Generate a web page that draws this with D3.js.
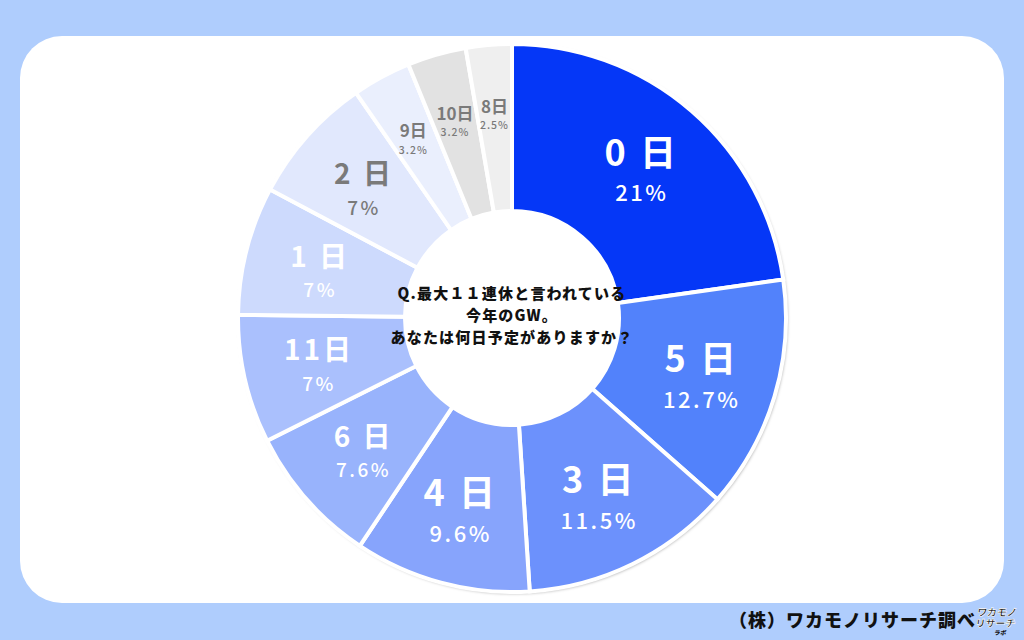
<!DOCTYPE html>
<html><head><meta charset="utf-8">
<script src="https://cdn.jsdelivr.net/npm/d3@7"></script>
<style>
html,body{margin:0;padding:0;background:#afcdfd;}
svg{display:block;}
</style></head>
<body>
<svg id="c" width="1024" height="640"></svg>
<script>
const categories = ["0日","5日","3日","4日","6日","11日","1日","2日","9日","10日","8日"];
const labelTexts = ["0 日","5 日","3 日","4 日","6 日","11日","1 日","2 日","9日","10日","8日"];
const values = [21, 12.7, 11.5, 9.6, 7.6, 7, 7, 7, 3.2, 3.2, 2.5];
const sliceColors = ["#0537f7","#5282fb","#6c91fc","#87a4fc","#98b3fc","#aac0fd","#cddafd","#e1e8fd","#eaeffd","#e2e2e2","#efefef"];
const textColors = ["#fff","#fff","#fff","#fff","#fff","#fff","#fff","#7a7a7a","#7a7a7a","#7a7a7a","#7a7a7a"];
const questionLines = ["Q.最大１１連休と言われている","今年のGW。","あなたは何日予定がありますか？"];
const footerText = "（株）ワカモノリサーチ調べ";

const svg = d3.select("#c");
const W = 1024, H = 640;
const font = "'Noto Sans CJK JP','Noto Sans',sans-serif";

// background & panel
svg.append("rect").attr("width", W).attr("height", H).attr("fill", "#afcdfd");
svg.append("rect").attr("x", 20).attr("y", 36).attr("width", 984).attr("height", 567)
  .attr("rx", 42).attr("ry", 42).attr("fill", "#ffffff");

const defs = svg.append("defs");
const f = defs.append("filter").attr("id", "sh").attr("x", "-10%").attr("y", "-10%").attr("width", "120%").attr("height", "120%");
f.append("feDropShadow").attr("dx", 1.5).attr("dy", 1.5).attr("stdDeviation", 1.5)
  .attr("flood-color", "#000").attr("flood-opacity", 0.35);

const cx = 512, cy = 318, rOut = 274, rIn = 107;
const g = svg.append("g").attr("transform", `translate(${cx},${cy})`);

const pie = d3.pie().sort(null).value(d => d.v);
const data = categories.map((c, i) => ({c, i, v: values[i]}));
const arcs = pie(data);
const arc = d3.arc().innerRadius(rIn).outerRadius(rOut);

// shadow base
g.append("circle").attr("r", rOut).attr("fill", "#fff").attr("filter", "url(#sh)");

g.selectAll("path.s").data(arcs).join("path").attr("class", "s")
  .attr("d", arc).attr("fill", d => sliceColors[d.data.i])
  .attr("stroke", "#fff").attr("stroke-width", 4).attr("stroke-linejoin", "miter");

// hole
g.append("circle").attr("r", rIn).attr("fill", "#fff");

// labels
const labelArcBig = d3.arc().innerRadius(198).outerRadius(198);
const labelArcSmall = d3.arc().innerRadius(207).outerRadius(207);
function sizes(v) {
  if (v >= 9) return [36, 22, 41];
  if (v >= 5) return [28, 19, 34];
  return [17, 10.5, 19];
}
const lg = g.selectAll("g.l").data(arcs).join("g").attr("class", "l")
  .attr("transform", d => {
    const [x, y] = (d.data.v >= 5 ? labelArcBig : labelArcSmall).centroid(d);
    return `translate(${x},${y + 4})`;
  });
lg.append("text")
  .attr("text-anchor", "middle")
  .attr("y", d => -sizes(d.data.v)[2] / 2 + sizes(d.data.v)[0] * 0.38)
  .attr("font-family", font).attr("font-weight", 700)
  .attr("font-size", d => sizes(d.data.v)[0])
  .attr("letter-spacing", d => d.data.v >= 5 ? 3 : 0)
  .attr("fill", d => textColors[d.data.i])
  .text(d => labelTexts[d.data.i]);
lg.append("text")
  .attr("text-anchor", "middle")
  .attr("y", d => sizes(d.data.v)[2] / 2 + sizes(d.data.v)[1] * 0.38)
  .attr("font-family", font).attr("font-weight", 500)
  .attr("font-size", d => sizes(d.data.v)[1])
  .attr("letter-spacing", d => d.data.v >= 5 ? 2.5 : 1)
  .attr("fill", d => textColors[d.data.i])
  .text(d => d.data.v + "%");

// question
svg.append("g").selectAll("text").data(questionLines).join("text")
  .attr("x", cx).attr("y", (d, i) => 299 + i * 22)
  .attr("text-anchor", "middle")
  .attr("font-family", font).attr("font-weight", 900).attr("font-size", 15)
  .attr("letter-spacing", 1.2)
  .attr("fill", "#111")
  .text(d => d);

// footer
svg.append("text").attr("x", 976).attr("y", 627).attr("text-anchor", "end")
  .attr("font-family", font).attr("font-weight", 900).attr("font-size", 18)
  .attr("letter-spacing", 1).attr("fill", "#111").text(footerText);

// small logo
const logo = svg.append("g").attr("transform", "translate(980,606) skewX(-8)");
logo.append("text").attr("x", 18).attr("y", 10).attr("text-anchor", "middle")
  .attr("font-family", font).attr("font-weight", 900).attr("font-size", 10)
  .attr("stroke", "#fff").attr("stroke-width", 0.6).attr("fill", "#111").text("ワカモノ");
logo.append("text").attr("x", 18).attr("y", 21).attr("text-anchor", "middle")
  .attr("font-family", font).attr("font-weight", 900).attr("font-size", 10)
  .attr("stroke", "#fff").attr("stroke-width", 0.6).attr("fill", "#111").text("リサーチ");
logo.append("text").attr("x", 24).attr("y", 29).attr("text-anchor", "middle")
  .attr("font-family", font).attr("font-weight", 900).attr("font-size", 6)
  .attr("fill", "#111").text("ラボ");
</script>
</body></html>
